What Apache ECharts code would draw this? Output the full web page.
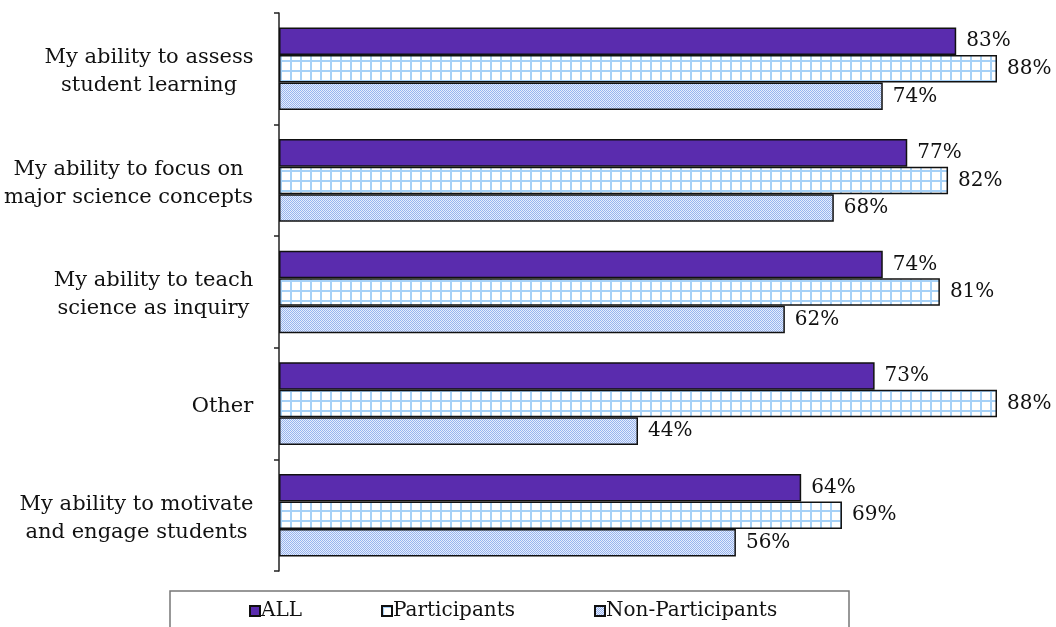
<!DOCTYPE html>
<html>
<head>
<meta charset="utf-8">
<script src="https://cdn.jsdelivr.net/npm/echarts@6/dist/echarts.min.js"></script>
<style>
html,body{margin:0;padding:0;background:#fff;}
#chart{width:1056px;height:627px;}
</style>
</head>
<body>
<div id="chart"></div>
<script>
const categories = [
  "My ability to assess\nstudent learning",
  "My ability to focus on\nmajor science concepts",
  "My ability to teach\nscience as inquiry",
  "Other",
  "My ability to motivate\nand engage students"
];
const seriesNames = ["ALL", "Participants", "Non-Participants"];
const allValues = [83, 77, 74, 73, 64];
const participantValues = [88, 82, 81, 88, 69];
const nonParticipantValues = [74, 68, 62, 44, 56];

function gridPattern() {
  const c = document.createElement('canvas');
  c.width = 10; c.height = 10;
  const g = c.getContext('2d');
  g.fillStyle = '#ffffff'; g.fillRect(0, 0, 10, 10);
  g.fillStyle = '#a6d1f7';
  g.fillRect(0, 0, 2, 10);
  g.fillRect(0, 0, 10, 2);
  return c;
}
function dotPattern() {
  const c = document.createElement('canvas');
  c.width = 2; c.height = 2;
  const g = c.getContext('2d');
  g.fillStyle = '#e6edfc'; g.fillRect(0, 0, 2, 2);
  g.fillStyle = '#97b4ef';
  g.fillRect(0, 0, 1, 1);
  g.fillRect(1, 1, 1, 1);
  return c;
}

const FONT = 'DejaVu Serif';
const LABEL_SIZE = 21;

// per-label block widths so each line is centred within its own block
const measureCtx = document.createElement('canvas').getContext('2d');
measureCtx.font = LABEL_SIZE + 'px "' + FONT + '"';
const rich = {};
categories.forEach(function (cat, i) {
  const w = Math.max.apply(null, cat.split('\n').map(s => measureCtx.measureText(s).width));
  rich['c' + i] = {width: Math.ceil(w) + 1, align: 'center', fontFamily: FONT, fontSize: LABEL_SIZE, lineHeight: 28, color: '#111'};
});

const chart = echarts.init(document.getElementById('chart'), null, {renderer: 'canvas'});

const labelCfg = {
  show: true,
  position: 'right',
  distance: 10,
  formatter: '{c}%',
  fontFamily: FONT,
  fontSize: 20,
  color: '#111'
};
const barBase = {
  type: 'bar',
  barGap: '0%',
  barCategoryGap: '26%',
  label: labelCfg
};

chart.setOption({
  animation: false,
  backgroundColor: '#ffffff',
  grid: {left: 278, right: 59, top: 13, bottom: 56},
  xAxis: {type: 'value', min: 0, max: 88, show: false},
  yAxis: {
    type: 'category',
    inverse: true,
    data: categories,
    axisLine: {lineStyle: {color: '#222', width: 1.5}},
    axisTick: {show: true, length: 5, lineStyle: {color: '#222', width: 1.5}},
    axisLabel: {
      margin: 25,
      padding: [6, 0, 0, 0],
      formatter: function (v, idx) {
        return v.split('\n').map(s => '{c' + idx + '|' + s + '}').join('\n');
      },
      rich: rich
    }
  },
  legend: {
    data: seriesNames,
    left: 249,
    top: 601,
    padding: 0,
    itemWidth: 10,
    itemHeight: 10,
    itemGap: 79,
    icon: 'rect',
    textStyle: {fontFamily: FONT, fontSize: 20, color: '#111', padding: [0, 0, 0, -4]}
  },
  graphic: [{
    type: 'rect',
    shape: {x: 170, y: 591, width: 679, height: 60},
    style: {fill: 'none', stroke: '#777', lineWidth: 1.5},
    silent: true
  }],
  series: [
    Object.assign({}, barBase, {
      name: seriesNames[0],
      data: allValues,
      itemStyle: {color: '#5a2cae', borderColor: '#111', borderWidth: 1.5}
    }),
    Object.assign({}, barBase, {
      name: seriesNames[1],
      data: participantValues,
      itemStyle: {color: {image: gridPattern(), repeat: 'repeat'}, borderColor: '#111', borderWidth: 1.5}
    }),
    Object.assign({}, barBase, {
      name: seriesNames[2],
      data: nonParticipantValues,
      itemStyle: {color: {image: dotPattern(), repeat: 'repeat'}, borderColor: '#111', borderWidth: 1.5}
    })
  ]
});
</script>
</body>
</html>
